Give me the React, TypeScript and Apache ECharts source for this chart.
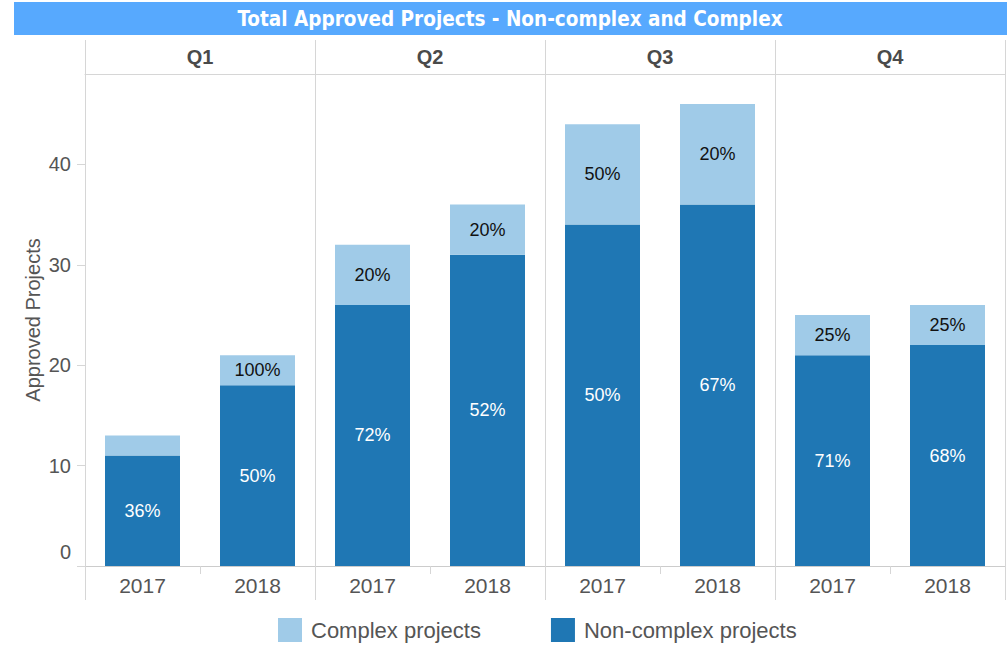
import React, { useEffect, useRef } from "react";
import * as echarts from "echarts";

const TITLE = "Total Approved Projects - Non-complex and Complex";
const QUARTERS = ["Q1", "Q2", "Q3", "Q4"];
const YEARS = ["2017", "2018", "2017", "2018", "2017", "2018", "2017", "2018"];
const NON_COMPLEX = [11, 18, 26, 31, 34, 36, 21, 22];
const COMPLEX = [2, 3, 6, 5, 10, 10, 4, 4];
const NON_COMPLEX_PCT = ["36%", "50%", "72%", "52%", "50%", "67%", "71%", "68%"];
const COMPLEX_PCT = ["", "100%", "20%", "20%", "50%", "20%", "25%", "25%"];
const Y_TICKS = [0, 10, 20, 30, 40];

const DARK = "#1f77b4";
const LIGHT = "#a0cbe8";
const LINE = "#d6d6d6";
const FONT = '"Liberation Sans", Arial, sans-serif';

export default function App() {
  const ref = useRef<HTMLDivElement>(null);
  useEffect(() => {
    if (!ref.current) return;
    const chart = echarts.init(ref.current, undefined, { renderer: "svg" });
    chart.setOption({
      animation: false,
      textStyle: { fontFamily: FONT },
      graphic: [
        { type: "rect", shape: { x: 14, y: 2, width: 993, height: 33 }, style: { fill: "#57a9fe" } },
        {
          type: "text",
          x: 510,
          y: 18.5,
          style: {
            text: TITLE,
            fill: "#ffffff",
            font: 'bold 20.5px "DejaVu Sans Condensed", "DejaVu Sans", sans-serif',
            textAlign: "center",
            textVerticalAlign: "middle",
          },
        },
      ],
      legend: {
        data: ["Complex projects", "Non-complex projects"],
        left: 278,
        top: 618,
        padding: 0,
        itemWidth: 24,
        itemHeight: 24,
        itemGap: 70,
        icon: "rect",
        textStyle: { fontSize: 22, color: "#555", fontFamily: FONT, padding: [0, 0, 0, 4] },
      },
      grid: { left: 85, right: 2, top: 74, bottom: 80, containLabel: false },
      xAxis: [
        {
          type: "category",
          data: YEARS,
          position: "bottom",
          axisLine: { show: true, lineStyle: { color: "#cccccc" } },
          axisTick: { show: true, interval: 0, length: 8, lineStyle: { color: LINE } },
          axisLabel: { interval: 0, fontSize: 21, color: "#555", margin: 9, fontFamily: FONT },
          splitLine: { show: false },
        },
        {
          type: "category",
          data: QUARTERS,
          position: "bottom",
          axisLine: { show: false },
          axisTick: { show: true, interval: 0, length: 34, lineStyle: { color: LINE } },
          axisLabel: { show: false },
          splitLine: { show: true, interval: 0, lineStyle: { color: LINE } },
        },
        {
          type: "category",
          data: QUARTERS,
          position: "top",
          axisLine: { show: true, lineStyle: { color: LINE } },
          axisTick: { show: true, interval: 0, length: 34, lineStyle: { color: LINE } },
          axisLabel: { interval: 0, fontSize: 20, fontWeight: "bold", color: "#4a4a4a", margin: 7, fontFamily: FONT },
          splitLine: { show: false },
        },
      ],
      yAxis: {
        type: "value",
        min: 0,
        max: 49,
        name: "Approved Projects",
        nameLocation: "middle",
        nameGap: 42,
        nameMoveOverlap: false,
        nameTextStyle: { fontSize: 20, color: "#555", fontFamily: FONT },
        axisLine: { show: true, lineStyle: { color: LINE } },
        axisTick: { show: true, length: 8, customValues: Y_TICKS, lineStyle: { color: LINE } },
        axisLabel: {
          customValues: Y_TICKS,
          fontSize: 20,
          color: "#555",
          margin: 14,
          fontFamily: FONT,
          formatter: (v: number) => (v === 0 ? "{z|0}" : String(v)),
          rich: { z: { fontSize: 20, color: "#555", fontFamily: FONT, padding: [0, 0, 28, 0] } },
        },
        splitLine: { show: false },
      },
      series: [
        {
          name: "Non-complex projects",
          type: "bar",
          stack: "total",
          xAxisIndex: 0,
          barWidth: 75,
          data: NON_COMPLEX,
          itemStyle: { color: DARK },
          label: {
            show: true,
            position: "inside",
            color: "#ffffff",
            fontSize: 18,
            fontFamily: FONT,
            formatter: (p: any) => NON_COMPLEX_PCT[p.dataIndex],
          },
        },
        {
          name: "Complex projects",
          type: "bar",
          stack: "total",
          xAxisIndex: 0,
          barWidth: 75,
          data: COMPLEX,
          itemStyle: { color: LIGHT },
          label: {
            show: true,
            position: "inside",
            color: "#111111",
            fontSize: 18,
            fontFamily: FONT,
            formatter: (p: any) => COMPLEX_PCT[p.dataIndex],
          },
        },
      ],
    });
    return () => chart.dispose();
  }, []);
  return (
    <div
      ref={ref}
      style={{ position: "absolute", left: 0, top: 0, width: 1007, height: 646, background: "#fff" }}
    />
  );
}
